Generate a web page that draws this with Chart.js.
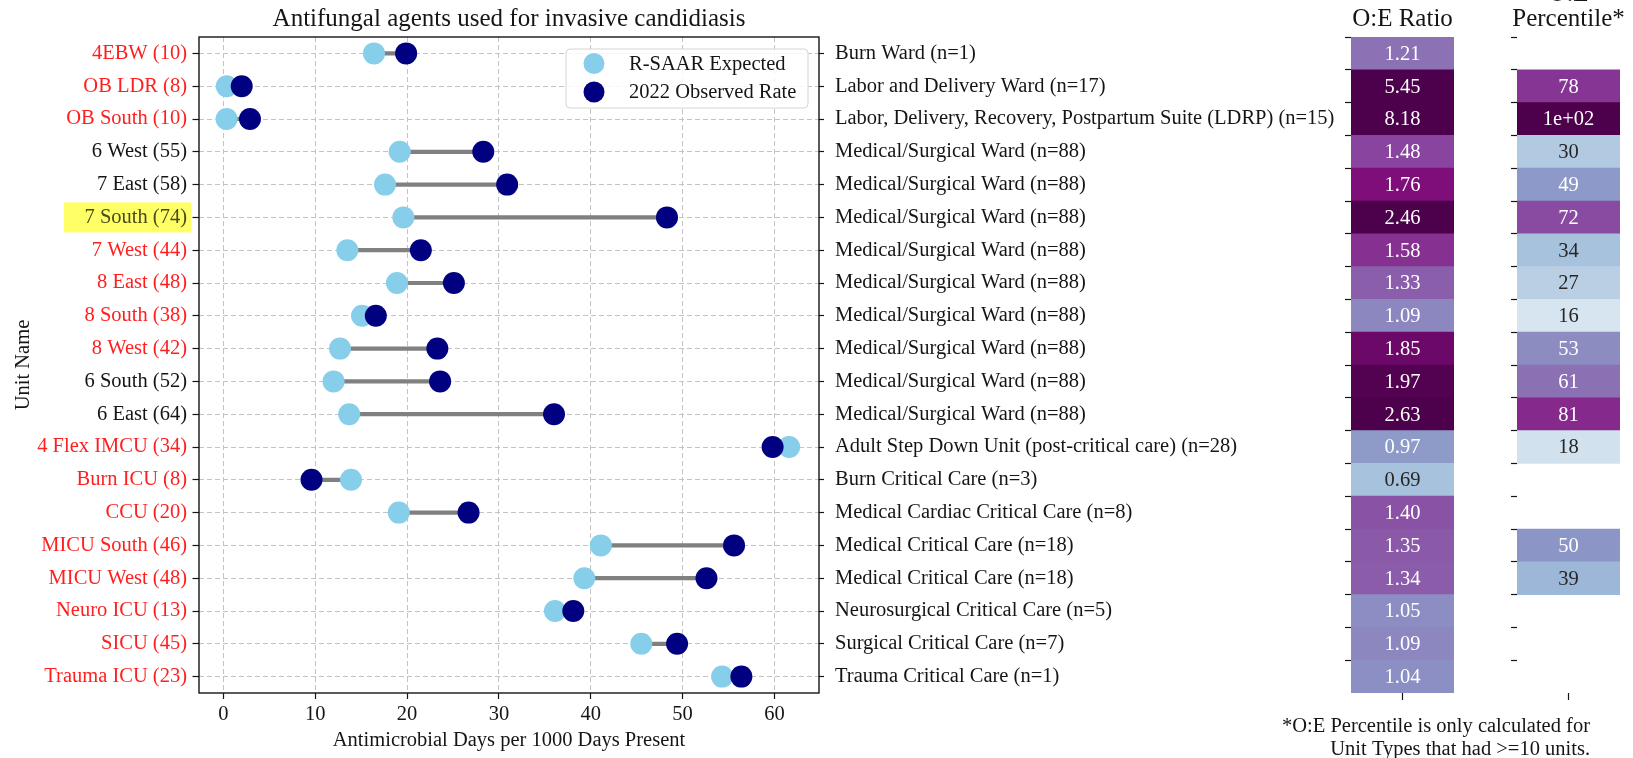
<!DOCTYPE html>
<html>
<head>
<meta charset="utf-8">
<script src="https://cdn.jsdelivr.net/npm/chart.js@4.4.1/dist/chart.umd.min.js"></script>
<style>
html,body{margin:0;padding:0;background:#fff;}
#wrap{position:relative;width:1633px;height:758px;overflow:hidden;background:#fff;}
canvas{position:absolute;top:0;}
</style>
</head>
<body>
<div id="wrap">
<canvas id="main" width="1633" height="758" style="left:0"></canvas>
<canvas id="oe" width="150" height="758"></canvas>
<canvas id="pct" width="150" height="758"></canvas>
</div>
<script>
// ---------------- DATA ----------------
const unitNames = ['4EBW (10)','OB LDR (8)','OB South (10)','6 West (55)','7 East (58)','7 South (74)','7 West (44)','8 East (48)','8 South (38)','8 West (42)','6 South (52)','6 East (64)','4 Flex IMCU (34)','Burn ICU (8)','CCU (20)','MICU South (46)','MICU West (48)','Neuro ICU (13)','SICU (45)','Trauma ICU (23)'];
const unitTypes = ['Burn Ward (n=1)','Labor and Delivery Ward (n=17)','Labor, Delivery, Recovery, Postpartum Suite (LDRP) (n=15)','Medical/Surgical Ward (n=88)','Medical/Surgical Ward (n=88)','Medical/Surgical Ward (n=88)','Medical/Surgical Ward (n=88)','Medical/Surgical Ward (n=88)','Medical/Surgical Ward (n=88)','Medical/Surgical Ward (n=88)','Medical/Surgical Ward (n=88)','Medical/Surgical Ward (n=88)','Adult Step Down Unit (post-critical care) (n=28)','Burn Critical Care (n=3)','Medical Cardiac Critical Care (n=8)','Medical Critical Care (n=18)','Medical Critical Care (n=18)','Neurosurgical Critical Care (n=5)','Surgical Critical Care (n=7)','Trauma Critical Care (n=1)'];
const expectedRate = [16.4, 0.37, 0.35, 19.2, 17.6, 19.6, 13.5, 18.9, 15.1, 12.7, 12.0, 13.7, 61.6, 13.9, 19.1, 41.1, 39.3, 36.1, 45.5, 54.3];
const observedRate = [19.9, 2.0, 2.9, 28.3, 30.9, 48.3, 21.5, 25.1, 16.6, 23.3, 23.6, 36.0, 59.8, 9.6, 26.7, 55.6, 52.6, 38.1, 49.4, 56.4];
const oeRatio = [1.21, 5.45, 8.18, 1.48, 1.76, 2.46, 1.58, 1.33, 1.09, 1.85, 1.97, 2.63, 0.97, 0.69, 1.40, 1.35, 1.34, 1.05, 1.09, 1.04];
const oePercentile = [null, 78, 100, 30, 49, 72, 34, 27, 16, 53, 61, 81, 18, null, null, 50, 39, null, null, null];
const xTickValues = [0, 10, 20, 30, 40, 50, 60];
const blackLabelUnits = ['6 West (55)', '7 East (58)', '7 South (74)', '6 South (52)', '6 East (64)'];
const highlightedUnit = '7 South (74)';
const seriesNames = ['R-SAAR Expected', '2022 Observed Rate'];
const chartTitle = 'Antifungal agents used for invasive candidiasis';
const xAxisTitle = 'Antimicrobial Days per 1000 Days Present';
const yAxisTitle = 'Unit Name';
const oeHeader = ['O:E Ratio'];
const pctHeader = ['O:E', 'Percentile*'];
const footnote = ['*O:E Percentile is only calculated for', 'Unit Types that had >=10 units.'];

// ---------------- STYLE / LAYOUT ----------------
const W = 1633, H = 758;
const FONT = "'Liberation Serif', 'DejaVu Serif', serif";
const FS = 20.5, TFS = 25;
const PLOT = {left: 199, right: 819, top: 37, bottom: 693};
const INK = '#151515';
const GRID = '#c4c4c4';
const EXP_COLOR = '#87ceeb', OBS_COLOR = '#000080', LINK_COLOR = '#808080';
const BUPU = ['#f7fcfd','#e0ecf4','#bfd3e6','#9ebcda','#8c96c6','#8c6bb1','#88419d','#810f7c','#4d004b'];

Chart.defaults.font.family = FONT;
Chart.defaults.color = INK;

function hexRgb(h){return [1,3,5].map(k=>parseInt(h.substr(k,2),16));}
function cmap(t){
  t = Math.max(0, Math.min(1, t));
  const s = t*(BUPU.length-1); const i = Math.min(BUPU.length-2, Math.floor(s)); const f = s-i;
  const a = hexRgb(BUPU[i]), b = hexRgb(BUPU[i+1]);
  return a.map((v,k)=>Math.round(v+(b[k]-v)*f));
}
function lum(rgb){
  const c = rgb.map(v=>{v/=255; return v<=0.03928 ? v/12.92 : Math.pow((v+0.055)/1.055, 2.4);});
  return 0.2126*c[0]+0.7152*c[1]+0.0722*c[2];
}
function fmt2g(v){ return v >= 100 ? v.toExponential(0).replace(/e\+(\d)$/, 'e+0$1') : String(Math.round(v)); }

const labelColors = unitNames.map(u => u === highlightedUnit ? '#4a4a1c' : (blackLabelUnits.includes(u) ? INK : '#ff1f1f'));

// ---------------- MAIN CHART ----------------
const decor = {
  id: 'decor',
  beforeDraw(chart){
    const ctx = chart.ctx; ctx.save();
    ctx.fillStyle = '#fff'; ctx.fillRect(0, 0, chart.width, chart.height);
    const yc = chart.scales.y.getPixelForValue(unitNames.indexOf(highlightedUnit));
    ctx.fillStyle = '#ffff66';
    ctx.fillRect(64, yc - 15, 127, 30);
    ctx.restore();
  },
  beforeDatasetsDraw(chart){
    const {ctx, chartArea: a} = chart; ctx.save();
    ctx.strokeStyle = INK; ctx.lineWidth = 1.4;
    ctx.strokeRect(a.left, a.top, a.right - a.left, a.bottom - a.top);
    ctx.restore();
  },
  afterDatasetsDraw(chart){
    const ctx = chart.ctx; ctx.save();
    const lx = 566, ly = 49, lw = 242, lh = 59, r = 4;
    ctx.beginPath();
    ctx.moveTo(lx+r, ly); ctx.lineTo(lx+lw-r, ly); ctx.quadraticCurveTo(lx+lw, ly, lx+lw, ly+r);
    ctx.lineTo(lx+lw, ly+lh-r); ctx.quadraticCurveTo(lx+lw, ly+lh, lx+lw-r, ly+lh);
    ctx.lineTo(lx+r, ly+lh); ctx.quadraticCurveTo(lx, ly+lh, lx, ly+lh-r);
    ctx.lineTo(lx, ly+r); ctx.quadraticCurveTo(lx, ly, lx+r, ly); ctx.closePath();
    ctx.fillStyle = 'rgba(255,255,255,0.85)'; ctx.fill();
    ctx.strokeStyle = '#d4d4d4'; ctx.lineWidth = 1; ctx.stroke();
    const entries = [chart.data.datasets[1], chart.data.datasets[0]];
    entries.forEach((ds, k) => {
      const cy = ly + 14.5 + k*28.5;
      ctx.beginPath(); ctx.arc(594, cy, 10.5, 0, Math.PI*2); ctx.fillStyle = ds.backgroundColor; ctx.fill();
      ctx.fillStyle = INK; ctx.font = `${FS}px ${FONT}`; ctx.textAlign = 'left'; ctx.textBaseline = 'middle';
      ctx.fillText(ds.label, 629, cy + 1);
    });
    ctx.restore();
  },
  afterDraw(chart){
    const {ctx, chartArea: a} = chart; ctx.save();
    ctx.fillStyle = INK; ctx.textAlign = 'center'; ctx.textBaseline = 'alphabetic';
    ctx.font = `${TFS}px ${FONT}`;
    ctx.fillText(chartTitle, (a.left + a.right)/2, 26);
    ctx.font = `${FS}px ${FONT}`; ctx.textAlign = 'right';
    ctx.fillText(footnote[0], 1590, 732);
    ctx.fillText(footnote[1], 1590, 755);
    ctx.restore();
  }
};

new Chart(document.getElementById('main'), {
  type: 'bar',
  data: {
    labels: unitNames,
    datasets: [
      {type: 'scatter', label: seriesNames[1], data: unitNames.map((u,i)=>({x: observedRate[i], y: u})),
       backgroundColor: OBS_COLOR, borderColor: OBS_COLOR, borderWidth: 0, pointRadius: 11, pointHoverRadius: 11,
       xAxisID: 'x', yAxisID: 'y', order: 1},
      {type: 'scatter', label: seriesNames[0], data: unitNames.map((u,i)=>({x: expectedRate[i], y: u})),
       backgroundColor: EXP_COLOR, borderColor: EXP_COLOR, borderWidth: 0, pointRadius: 11, pointHoverRadius: 11,
       xAxisID: 'x', yAxisID: 'y', order: 2},
      {type: 'bar', label: 'link', data: unitNames.map((u,i)=>[expectedRate[i], observedRate[i]]),
       backgroundColor: LINK_COLOR, barThickness: 3.5, borderWidth: 0, xAxisID: 'x', yAxisID: 'y', order: 3}
    ]
  },
  options: {
    indexAxis: 'y', responsive: false, animation: false, devicePixelRatio: 1,
    layout: {padding: {left: 0, right: 0, top: PLOT.top, bottom: 0}},
    plugins: {legend: {display: false}, tooltip: {enabled: false}},
    scales: {
      x: {
        type: 'linear', position: 'bottom', min: -2.65, max: 64.85,
        afterFit(s){ s.height = H - PLOT.bottom; },
        afterBuildTicks(s){ s.ticks = xTickValues.map(v=>({value: v})); },
        ticks: {font: {size: FS}, color: INK, padding: 3, includeBounds: false},
        grid: {color: GRID, lineWidth: 1, tickColor: INK, tickLength: 6, tickWidth: 1.2, tickBorderDash: []},
        border: {display: false, dash: [5, 3]},
        title: {display: true, text: xAxisTitle, font: {size: FS}, color: INK, padding: {top: 0, bottom: 4.6}}
      },
      y: {
        type: 'category', position: 'left', offset: true,
        afterFit(s){ s.width = PLOT.left; },
        ticks: {font: {size: FS}, color: (c)=>labelColors[c.index], padding: 5.5, autoSkip: false},
        grid: {offset: false, color: GRID, lineWidth: 1, tickColor: INK, tickLength: 6.5, tickWidth: 1.2, tickBorderDash: []},
        border: {display: false, dash: [5, 3]},
        title: {display: true, text: yAxisTitle, font: {size: FS}, color: INK, padding: {top: 11.5, bottom: 0}}
      },
      y2: {
        type: 'category', position: 'right', labels: unitTypes, offset: true,
        afterFit(s){ s.width = W - PLOT.right; },
        ticks: {font: {size: FS}, color: INK, padding: 11, autoSkip: false},
        grid: {offset: false, drawOnChartArea: false, tickColor: INK, tickLength: 5, tickWidth: 1.2},
        border: {display: false}
      }
    }
  },
  plugins: [decor]
});

// ---------------- HEATMAP COLUMNS ----------------
function heatmap(id, canvasLeft, canvasWidth, areaLeft, areaRight, values, vmax, fmt, header){
  const cv = document.getElementById(id);
  cv.style.left = canvasLeft + 'px'; cv.width = canvasWidth; cv.height = H;
  const yW = 8;
  const rgbs = values.map(v => v == null ? null : cmap(v / vmax));
  const annot = {
    id: 'annot_' + id,
    afterDatasetsDraw(chart){
      const ctx = chart.ctx; ctx.save();
      ctx.font = `${FS}px ${FONT}`; ctx.textAlign = 'center'; ctx.textBaseline = 'middle';
      chart.getDatasetMeta(0).data.forEach((el, i) => {
        if (values[i] == null) return;
        const p = el.getCenterPoint();
        ctx.fillStyle = lum(rgbs[i]) < 0.408 ? '#ffffff' : '#262626';
        ctx.fillText(fmt(values[i]), p.x, p.y + 1);
      });
      ctx.restore();
    },
    afterDraw(chart){
      const {ctx, chartArea: a} = chart; ctx.save();
      ctx.font = `${TFS}px ${FONT}`; ctx.fillStyle = INK; ctx.textAlign = 'center'; ctx.textBaseline = 'alphabetic';
      const cx = (a.left + a.right) / 2;
      for (let k = header.length - 1, y = 26; k >= 0; k--, y -= 25) ctx.fillText(header[k], cx, y);
      ctx.restore();
    }
  };
  return new Chart(cv, {
    type: 'bar',
    data: {labels: unitNames, datasets: [{
      data: values.map(v => v == null ? null : 1),
      backgroundColor: rgbs.map(c => c ? `rgb(${c[0]},${c[1]},${c[2]})` : 'rgba(0,0,0,0)'),
      barPercentage: 1, categoryPercentage: 1, borderWidth: 0
    }]},
    options: {
      indexAxis: 'y', responsive: false, animation: false, devicePixelRatio: 1,
      layout: {padding: {left: areaLeft - canvasLeft - yW, right: canvasLeft + canvasWidth - areaRight, top: PLOT.top, bottom: H - PLOT.bottom - 10}},
      plugins: {legend: {display: false}, tooltip: {enabled: false}},
      scales: {
        x: {type: 'linear', min: 0, max: 1,
            afterFit(s){ s.height = 10; },
            afterBuildTicks(s){ s.ticks = [{value: 0.5}]; },
            ticks: {display: false},
            grid: {drawOnChartArea: false, tickLength: 7, tickColor: INK, tickWidth: 1.2},
            border: {display: false}},
        y: {type: 'category', offset: true,
            afterFit(s){ s.width = yW; },
            ticks: {display: false, autoSkip: false},
            grid: {offset: true, drawOnChartArea: false, tickLength: 6, tickWidth: 1.2,
                   tickColor: (c) => (c.index === undefined ? 'rgba(0,0,0,0)' : INK)},
            border: {display: false}}
      }
    },
    plugins: [annot]
  });
}

heatmap('oe', 1320, 150, 1351, 1454, oeRatio, 2, v => v.toFixed(2), oeHeader);
heatmap('pct', 1480, 153, 1517, 1620, oePercentile, 100, fmt2g, pctHeader);
</script>
</body>
</html>
